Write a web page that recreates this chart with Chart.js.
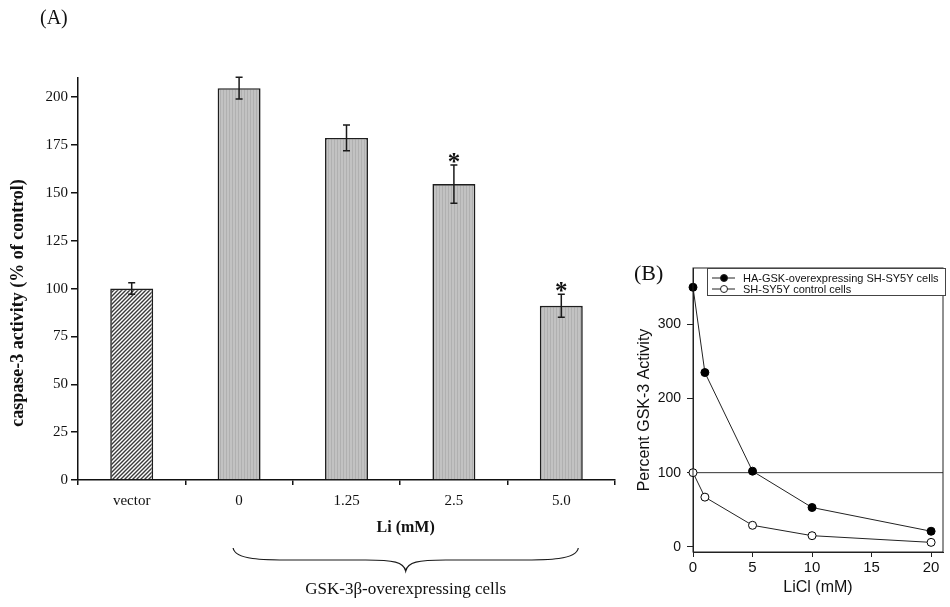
<!DOCTYPE html>
<html>
<head>
<meta charset="utf-8">
<title>Caspase-3 and GSK-3 activity</title>
<script src="https://cdn.jsdelivr.net/npm/chart.js@4.4.1/dist/chart.umd.min.js"></script>
<style>
  html, body { margin: 0; padding: 0; background: #fff; width: 950px; height: 607px; overflow: hidden; }
  #wrapA { position: absolute; left: 0; top: 0; width: 640px; height: 607px; }
  #wrapB { position: absolute; left: 620px; top: 240px; width: 330px; height: 367px; }
</style>
</head>
<body>
<div id="wrapA"><canvas id="chartA"></canvas></div>
<div id="wrapB"><canvas id="chartB"></canvas></div>
<script>
// ─── Data: panel (A) caspase-3 ─────────────────────────────────
const CASPASE_GROUPS = ['vector', '0', '1.25', '2.5', '5.0'];
const CASPASE_ACTIVITY = [100, 204.7, 178.7, 154.6, 91];
const CASPASE_SEM = [3, 5.7, 6.7, 10, 6];
const CASPASE_SIGNIFICANT = [false, false, false, true, true];

// ─── Data: panel (B) GSK-3 ─────────────────────────────────────
const LICL_MM = [0, 1, 5, 10, 20];
const GSK_OVEREXPRESSING = [350, 235, 102, 53, 21];
const GSK_CONTROL = [100, 67, 29, 15, 6];
const GSK_BASELINE = 100;

const SERIF = "'Liberation Serif', 'Times New Roman', serif";
const SANS = "'Liberation Sans', Arial, sans-serif";
const INK = '#111';

Chart.defaults.animation = false;
Chart.defaults.color = INK;

// ─── Fill textures ─────────────────────────────────────────────

function grayTexture(ctx) {
  const c = document.createElement('canvas');
  c.width = 3; c.height = 8;
  const g = c.getContext('2d');
  g.fillStyle = '#c2c2c2'; g.fillRect(0, 0, 3, 8);
  g.fillStyle = '#b0b0b0'; g.fillRect(1, 0, 1, 8);
  return ctx.createPattern(c, 'repeat');
}

function hatchTexture(ctx) {
  const s = 4;
  const c = document.createElement('canvas');
  c.width = s; c.height = s;
  const g = c.getContext('2d');
  g.fillStyle = '#fff'; g.fillRect(0, 0, s, s);
  g.strokeStyle = '#3a3a3a'; g.lineWidth = 1.4;
  g.beginPath();
  g.moveTo(-1, s + 1); g.lineTo(s + 1, -1);
  g.moveTo(-1, 1); g.lineTo(1, -1);
  g.moveTo(s - 1, s + 1); g.lineTo(s + 1, s - 1);
  g.stroke();
  return ctx.createPattern(c, 'repeat');
}

// ─── Panel (A) extras: error bars, stars, labels, brace ───────

const caspaseDecor = {
  id: 'caspaseDecor',
  afterDraw(chart) {
    const { ctx, chartArea: area, scales: { x, y } } = chart;
    const meta = chart.getDatasetMeta(0);
    ctx.save();
    ctx.strokeStyle = '#1a1a1a';
    ctx.fillStyle = INK;
    ctx.lineWidth = 1.5;

    meta.data.forEach((bar, i) => {
      const hi = y.getPixelForValue(CASPASE_ACTIVITY[i] + CASPASE_SEM[i]);
      const lo = y.getPixelForValue(CASPASE_ACTIVITY[i] - CASPASE_SEM[i]);
      ctx.beginPath();
      ctx.moveTo(bar.x, hi); ctx.lineTo(bar.x, lo);
      ctx.moveTo(bar.x - 3.5, hi); ctx.lineTo(bar.x + 3.5, hi);
      ctx.moveTo(bar.x - 3.5, lo); ctx.lineTo(bar.x + 3.5, lo);
      ctx.stroke();
      if (CASPASE_SIGNIFICANT[i]) {
        ctx.font = `bold 25px ${SERIF}`;
        ctx.textAlign = 'center';
        ctx.textBaseline = 'alphabetic';
        ctx.fillText('*', bar.x, hi + 5);
      }
    });

    // y title
    ctx.save();
    ctx.translate(18, (area.top + area.bottom) / 2 + 24);
    ctx.rotate(-Math.PI / 2);
    ctx.font = `bold 18px ${SERIF}`;
    ctx.textAlign = 'center';
    ctx.textBaseline = 'middle';
    ctx.fillText('caspase-3 activity (% of control)', 0, 0);
    ctx.restore();

    // panel label
    ctx.font = `20px ${SERIF}`;
    ctx.textAlign = 'left';
    ctx.textBaseline = 'alphabetic';
    ctx.fillText('(A)', 40, 24);

    // brace under the lithium groups
    const left = x.getPixelForValue(1) - 6;
    const right = x.getPixelForValue(4) + 17;
    const mid = (left + right) / 2;
    const yEnd = area.bottom + 68, yFlat = area.bottom + 80, yTip = area.bottom + 91;

    ctx.font = `bold 16px ${SERIF}`;
    ctx.textAlign = 'center';
    ctx.textBaseline = 'middle';
    ctx.fillText('Li (mM)', mid, area.bottom + 48);

    ctx.lineWidth = 1.2;
    ctx.beginPath();
    ctx.moveTo(left, yEnd);
    ctx.bezierCurveTo(left + 2, yFlat, left + 30, yFlat, left + 60, yFlat);
    ctx.lineTo(mid - 40, yFlat);
    ctx.bezierCurveTo(mid - 12, yFlat, mid - 2, yFlat + 2, mid, yTip);
    ctx.bezierCurveTo(mid + 2, yFlat + 2, mid + 12, yFlat, mid + 40, yFlat);
    ctx.lineTo(right - 60, yFlat);
    ctx.bezierCurveTo(right - 30, yFlat, right - 2, yFlat, right, yEnd);
    ctx.stroke();

    ctx.font = `17px ${SERIF}`;
    ctx.fillText('GSK-3\u03B2-overexpressing cells', mid, area.bottom + 110);
    ctx.restore();
  },
};

// ─── Panel (B) extras: frame, in-plot legend, label ───────────

const gskDecor = {
  id: 'gskDecor',
  afterDraw(chart) {
    const { ctx, chartArea: area } = chart;
    ctx.save();
    ctx.strokeStyle = '#222';
    ctx.lineWidth = 1;
    ctx.strokeRect(area.left, area.top, area.right - area.left, area.bottom - area.top);

    // legend box
    const bx = area.left + 14, by = area.top, bw = area.right + 2 - bx, bh = 27;
    ctx.fillStyle = '#fff';
    ctx.fillRect(bx, by, bw, bh);
    ctx.strokeStyle = '#444';
    ctx.strokeRect(bx + 0.5, by + 0.5, bw, bh);

    chart.data.datasets.slice(0, 2).forEach((ds, i) => {
      const ry = by + 10 + i * 11;
      ctx.strokeStyle = '#222';
      ctx.beginPath();
      ctx.moveTo(bx + 5, ry); ctx.lineTo(bx + 28, ry);
      ctx.stroke();
      ctx.beginPath();
      ctx.arc(bx + 17, ry, 3.5, 0, Math.PI * 2);
      ctx.fillStyle = ds.pointBackgroundColor;
      ctx.fill();
      ctx.stroke();
      ctx.fillStyle = INK;
      ctx.font = `11px ${SANS}`;
      ctx.textAlign = 'left';
      ctx.textBaseline = 'middle';
      ctx.fillText(ds.label, bx + 36, ry + 0.5);
    });

    ctx.fillStyle = INK;
    ctx.font = `22px ${SERIF}`;
    ctx.textAlign = 'left';
    ctx.textBaseline = 'alphabetic';
    ctx.fillText('(B)', 14, 40);
    ctx.restore();
  },
};

// ─── Charts ────────────────────────────────────────────────────

function renderCaspaseChart() {
  const ctx = document.getElementById('chartA').getContext('2d');
  const gray = grayTexture(ctx);
  const hatch = hatchTexture(ctx);

  new Chart(ctx, {
    type: 'bar',
    data: {
      labels: CASPASE_GROUPS,
      datasets: [{
        data: CASPASE_ACTIVITY,
        backgroundColor: CASPASE_GROUPS.map((g, i) => (i === 0 ? hatch : gray)),
        borderColor: '#1e1e1e',
        borderWidth: 1.6,
        categoryPercentage: 1,
        barPercentage: 0.4,
      }],
    },
    options: {
      responsive: true,
      maintainAspectRatio: false,
      layout: { padding: { top: 78, right: 25, left: 0, bottom: 0 } },
      plugins: { legend: { display: false }, tooltip: { enabled: false } },
      scales: {
        x: {
          grid: { drawOnChartArea: false, tickLength: 5, color: INK, lineWidth: 1.5, offset: true },
          border: { color: INK, width: 1.5 },
          ticks: { color: INK, font: { family: SERIF, size: 15 }, padding: 7, maxRotation: 0 },
          afterFit: s => { s.height = 127; },
        },
        y: {
          min: 0,
          max: 210,
          grid: { drawOnChartArea: false, tickLength: 7, color: INK, lineWidth: 1.5 },
          border: { color: INK, width: 1.5 },
          ticks: { stepSize: 25, includeBounds: false, color: INK, font: { family: SERIF, size: 15 }, padding: 3 },
          afterFit: s => { s.width = 78; },
        },
      },
    },
    plugins: [caspaseDecor],
  });
}

function renderGskChart() {
  const ctx = document.getElementById('chartB').getContext('2d');
  const points = vals => LICL_MM.map((x, i) => ({ x, y: vals[i] }));

  new Chart(ctx, {
    type: 'line',
    data: {
      datasets: [
        {
          label: 'HA-GSK-overexpressing SH-SY5Y cells',
          data: points(GSK_OVEREXPRESSING),
          borderColor: '#222',
          borderWidth: 1,
          pointRadius: 4,
          pointBackgroundColor: '#000',
          pointBorderColor: '#000',
          pointBorderWidth: 1,
          tension: 0,
          clip: false,
        },
        {
          label: 'SH-SY5Y control cells',
          data: points(GSK_CONTROL),
          borderColor: '#222',
          borderWidth: 1,
          pointRadius: 4,
          pointBackgroundColor: '#fff',
          pointBorderColor: '#000',
          pointBorderWidth: 1,
          tension: 0,
          clip: false,
        },
        {
          label: 'baseline',
          data: [{ x: 0, y: GSK_BASELINE }, { x: 21, y: GSK_BASELINE }],
          borderColor: '#333',
          borderWidth: 1,
          pointRadius: 0,
        },
      ],
    },
    options: {
      responsive: true,
      maintainAspectRatio: false,
      layout: { padding: { top: 28, right: 7, left: 0, bottom: 0 } },
      plugins: { legend: { display: false }, tooltip: { enabled: false } },
      scales: {
        x: {
          type: 'linear',
          min: 0,
          max: 21,
          grid: { drawOnChartArea: false, tickLength: 5, color: '#222' },
          border: { color: '#222', width: 1 },
          ticks: { stepSize: 5, includeBounds: false, color: INK, font: { family: SANS, size: 15 }, padding: 2 },
          title: { display: true, text: 'LiCl (mM)', color: INK, font: { family: SANS, size: 16 }, padding: { bottom: 10 } },
          afterFit: s => { s.height = 55; },
        },
        y: {
          min: -7,
          max: 376,
          grid: { drawOnChartArea: false, tickLength: 6, color: '#222' },
          border: { color: '#222', width: 1 },
          ticks: { stepSize: 100, includeBounds: false, color: INK, font: { family: SANS, size: 14 }, padding: 6 },
          title: { display: true, text: 'Percent GSK-3 Activity', color: INK, font: { family: SANS, size: 16 }, padding: { top: 15 } },
          afterFit: s => { s.width = 73; },
        },
      },
    },
    plugins: [gskDecor],
  });
}

renderCaspaseChart();
renderGskChart();
</script>
</body>
</html>
